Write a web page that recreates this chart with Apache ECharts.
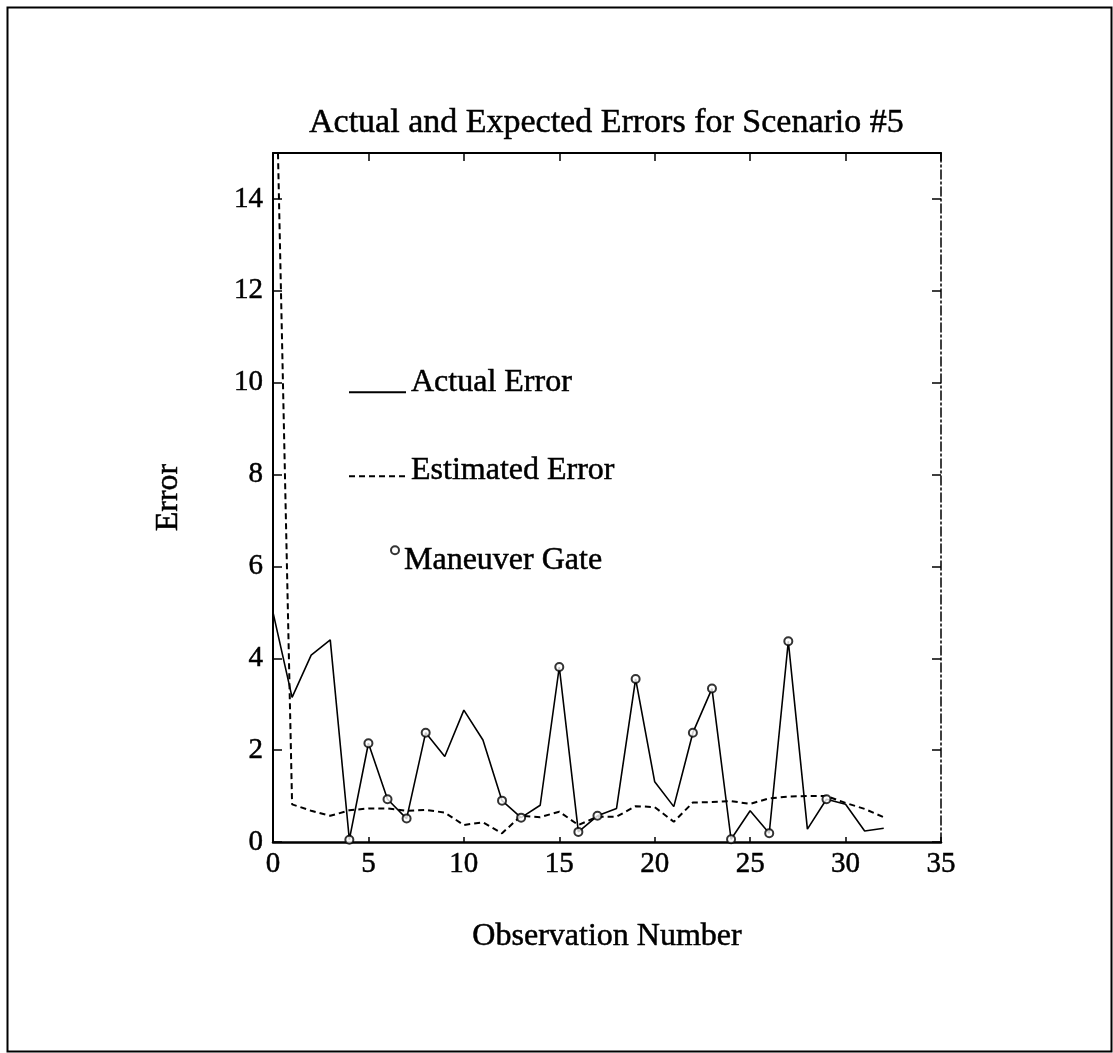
<!DOCTYPE html>
<html>
<head>
<meta charset="utf-8">
<script src="https://cdn.jsdelivr.net/npm/echarts@6/dist/echarts.min.js"></script>
<style>
  html, body { margin: 0; padding: 0; background: #fff; }
  #chart { width: 1113px; height: 1053px; }
</style>
</head>
<body>
<div id="chart"></div>
<script>
// Observation numbers (x values)
var observations = [0,1,2,3,4,5,6,7,8,9,10,11,12,13,14,15,16,17,18,19,20,21,22,23,24,25,26,27,28,29,30,31,32];
// Actual error per observation
var actualError = [5.0, 3.15, 4.07, 4.4, 0.05, 2.15, 0.93, 0.51, 2.38, 1.86, 2.87, 2.22, 0.90, 0.53, 0.80, 3.81, 0.22, 0.57, 0.73, 3.55, 1.31, 0.77, 2.38, 3.34, 0.06, 0.68, 0.19, 4.37, 0.28, 0.93, 0.82, 0.24, 0.30];
// Estimated error per observation (first value is off the top of the plot)
var estimatedError = [20, 0.82, 0.68, 0.57, 0.69, 0.73, 0.73, 0.68, 0.70, 0.64, 0.37, 0.43, 0.19, 0.57, 0.54, 0.66, 0.37, 0.55, 0.55, 0.78, 0.76, 0.44, 0.86, 0.87, 0.89, 0.83, 0.95, 0.99, 1.0, 1.0, 0.85, 0.72, 0.54];
// Observations where the maneuver gate fired
var gateObservations = [4,5,6,7,8,12,13,15,16,17,19,22,23,24,26,27,29];
// Axis ticks
var xTicks = [0,5,10,15,20,25,30,35];
var yTicks = [0,2,4,6,8,10,12,14];

var FONT = '"Liberation Serif", "Times New Roman", serif';
var INK = { textBorderColor: '#000', textBorderWidth: 0.5 };

var actualData = observations.map(function (o, i) { return [o, actualError[i]]; });
var estimatedData = observations.map(function (o, i) { return [o, estimatedError[i]]; });
var gateData = gateObservations.map(function (o) { return [o, actualError[observations.indexOf(o)]]; });

var chart = echarts.init(document.getElementById('chart'), null, { renderer: 'canvas' });

function legendText(pad) {
  return {
    fontFamily: FONT, fontSize: 32, color: '#000',
    rich: { t: { fontFamily: FONT, fontSize: 32, color: '#000', padding: pad, textBorderColor: '#000', textBorderWidth: 0.5 } }
  };
}

var option = {
  backgroundColor: '#fff',
  animation: false,
  graphic: [{
    type: 'rect',
    left: 5, top: 5,
    shape: { width: 1104, height: 1044 },
    style: { fill: 'none', stroke: '#000', lineWidth: 2 },
    silent: true
  }],
  title: {
    text: 'Actual and Expected Errors for Scenario #5',
    left: 304,
    top: 101,
    textStyle: Object.assign({ fontFamily: FONT, fontSize: 34, fontWeight: 'normal', color: '#000' }, INK)
  },
  legend: [
    {
      data: ['Actual Error'],
      left: 348, top: 366, padding: 0,
      orient: 'vertical', selectedMode: false,
      itemWidth: 57, itemHeight: 14,
      itemStyle: { opacity: 0 },
      formatter: function (n) { return '{t|' + n + '}'; },
      textStyle: legendText([0, 0, 20, 0])
    },
    {
      data: ['Estimated Error'],
      left: 348, top: 454, padding: 0,
      orient: 'vertical', selectedMode: false,
      itemWidth: 57, itemHeight: 14,
      itemStyle: { opacity: 0 },
      formatter: function (n) { return '{t|' + n + '}'; },
      textStyle: legendText([0, 0, 12, 0])
    },
    {
      data: ['Maneuver Gate'],
      left: 390, top: 544, padding: 0,
      orient: 'vertical', selectedMode: false,
      itemWidth: 8, itemHeight: 8,
      formatter: function (n) { return '{t|' + n + '}'; },
      textStyle: legendText([20, 0, 0, 0])
    }
  ],
  grid: { left: 273, right: 172, top: 153, bottom: 211, containLabel: false },
  xAxis: [
    {
      type: 'value', min: 0, max: 35, interval: 5, position: 'bottom',
      name: 'Observation Number', nameLocation: 'middle', nameGap: 79,
      nameTextStyle: Object.assign({ fontFamily: FONT, fontSize: 32, color: '#000' }, INK),
      axisLine: { show: true, onZero: false, lineStyle: { color: '#000', width: 2.5 } },
      axisTick: { show: true, inside: true, length: 5, lineStyle: { color: '#000', width: 1.5 } },
      axisLabel: Object.assign({ show: true, margin: 8, fontFamily: FONT, fontSize: 29, color: '#000' }, INK),
      splitLine: { show: false }
    },
    {
      type: 'value', min: 0, max: 35, interval: 5, position: 'top',
      axisLine: { show: true, onZero: false, lineStyle: { color: '#000', width: 2 } },
      axisTick: { show: true, inside: true, length: 8, lineStyle: { color: '#000', width: 1.5 } },
      axisLabel: { show: false },
      splitLine: { show: false }
    }
  ],
  yAxis: [
    {
      type: 'value', min: 0, max: 15, interval: 2, position: 'left',
      name: 'Error', nameLocation: 'middle', nameGap: 88,
      nameTextStyle: Object.assign({ fontFamily: FONT, fontSize: 32, color: '#000' }, INK),
      axisLine: { show: true, onZero: false, lineStyle: { color: '#000', width: 2 } },
      axisTick: { show: true, inside: true, length: 9, lineStyle: { color: '#000', width: 1.5 } },
      axisLabel: Object.assign({ show: true, margin: 10, showMaxLabel: false, fontFamily: FONT, fontSize: 29, color: '#000' }, INK),
      splitLine: { show: false }
    },
    {
      type: 'value', min: 0, max: 15, interval: 2, position: 'right',
      axisLine: { show: true, onZero: false, lineStyle: { color: '#000', width: 1.5, type: [9, 3, 2, 3] } },
      axisTick: { show: true, inside: true, length: 9, lineStyle: { color: '#000', width: 1.5 } },
      axisLabel: { show: false },
      splitLine: { show: false }
    }
  ],
  series: [
    {
      name: 'Actual Error',
      type: 'line',
      data: actualData,
      symbol: 'none',
      showSymbol: false,
      clip: true,
      lineStyle: { color: '#000', width: 1.6, type: 'solid' },
      itemStyle: { color: '#000' },
      z: 3
    },
    {
      name: 'Estimated Error',
      type: 'line',
      data: estimatedData,
      symbol: 'none',
      showSymbol: false,
      clip: true,
      lineStyle: { color: '#000', width: 2, type: [6, 4] },
      itemStyle: { color: '#000' },
      z: 2
    },
    {
      name: 'Maneuver Gate',
      type: 'scatter',
      data: gateData,
      symbol: 'emptyCircle',
      symbolSize: 8,
      itemStyle: { color: '#000', borderColor: '#000', borderWidth: 2.8 },
      z: 4
    }
  ]
};

chart.setOption(option);
</script>
</body>
</html>
